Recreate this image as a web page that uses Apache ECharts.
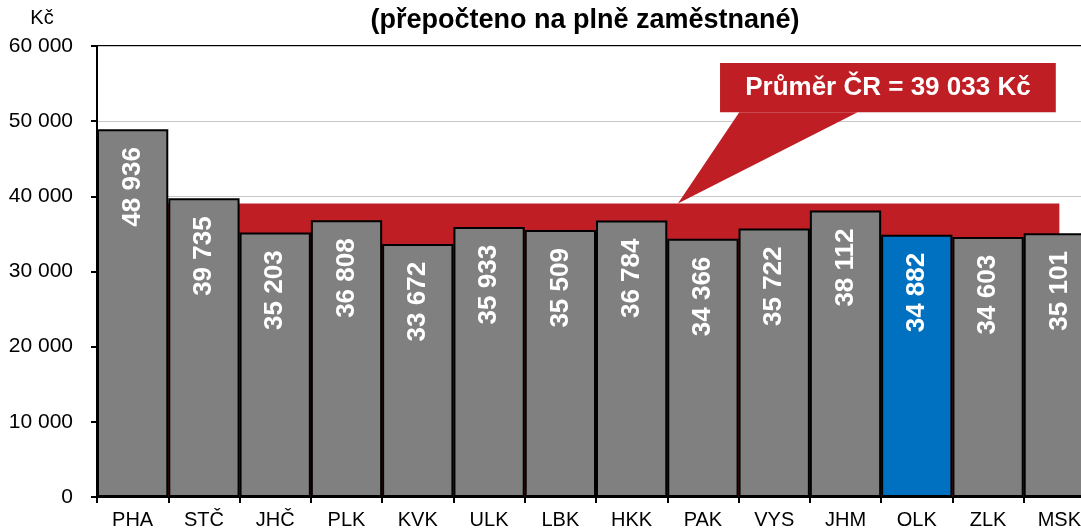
<!DOCTYPE html>
<html><head><meta charset="utf-8">
<script src="https://cdn.jsdelivr.net/npm/echarts@6/dist/echarts.min.js"></script>
<style>html,body{margin:0;padding:0;background:#fff;overflow:hidden;width:1081px;height:530px}#c{width:1095px;height:530px}</style>
</head><body><div id="c"></div>
<script>
const categories = ["PHA","STČ","JHČ","PLK","KVK","ULK","LBK","HKK","PAK","VYS","JHM","OLK","ZLK","MSK"];
const wages = [48936,39735,35203,36808,33672,35933,35509,36784,34366,35722,38112,34882,34603,35101];
const highlight = "OLK";
const average = 39033;
const yTicks = [0,10000,20000,30000,40000,50000,60000];
const titleText = "(přepočteno na plně zaměstnané)";
const unitText = "Kč";
const calloutText = "Průměr ČR = 39 033 Kč";

const FONT = "Liberation Sans, Arial, sans-serif";
const RED = "#BE1E24";
const fmt = v => String(v).replace(/\B(?=(\d{3})+(?!\d))/g, " ");

const chart = echarts.init(document.getElementById('c'), null, {renderer:'canvas'});
const option = {
  animation:false,
  backgroundColor:'#fff',
  title:{text:titleText,left:580,top:2,textAlign:'center',
    textStyle:{fontFamily:FONT,fontWeight:'bold',fontSize:27,color:'#000'}},
  grid:{left:97,top:46,bottom:33,right:0,show:true,borderColor:'#000',borderWidth:2,backgroundColor:'transparent'},
  xAxis:{type:'category',data:categories,boundaryGap:true,
    axisLine:{lineStyle:{color:'#000',width:2}},
    axisTick:{show:true,alignWithLabel:false,length:6,lineStyle:{color:'#000',width:2}},
    axisLabel:{fontFamily:FONT,fontSize:20,color:'#000',margin:13}},
  yAxis:{type:'value',min:yTicks[0],max:yTicks[yTicks.length-1],interval:10000,
    axisLine:{show:true,lineStyle:{color:'#000',width:2}},
    axisTick:{show:true,length:6,lineStyle:{color:'#000',width:2}},
    splitLine:{show:true,lineStyle:{color:'#c8c8c8',width:1}},
    axisLabel:{fontFamily:FONT,fontSize:21,color:'#000',margin:24,formatter:v=>fmt(v)}},
  series:[
    {type:'line',data:categories.map(()=>average),symbol:'none',z:1,
      lineStyle:{width:0,color:RED},areaStyle:{color:RED,opacity:1},silent:true},
    {type:'bar',z:2,barCategoryGap:'0%',
      data:wages.map((v,i)=>({value:v,itemStyle:{color:categories[i]===highlight?'#0070C0':'#808080'}})),
      itemStyle:{borderColor:'#000',borderWidth:2},
      label:{show:true,position:'insideTop',rotate:90,align:'right',verticalAlign:'middle',distance:18,
        fontFamily:FONT,fontWeight:'bold',fontSize:26,color:'#fff',formatter:p=>fmt(p.value)}}
  ]
};
chart.setOption(option);

// Annotations positioned from the axes
const yTip = chart.convertToPixel({yAxisIndex:0}, average);
const x7 = chart.convertToPixel({xAxisIndex:0}, 7);
const x8 = chart.convertToPixel({xAxisIndex:0}, 8);
const step = x8 - x7;
const at = k => x7 + k*step;
const y60 = chart.convertToPixel({yAxisIndex:0}, 60000);
const y50 = chart.convertToPixel({yAxisIndex:0}, 50000);
const boxTop = y60 + 17, boxBot = y50 - 9;
const boxL = at(1.24), boxR = at(5.95);
chart.setOption({graphic:[
  {type:'text',z:101,x:42,y:y60-28,
    style:{text:unitText,fill:'#000',font:'20px '+FONT,align:'center',verticalAlign:'middle'}},
  {type:'polygon',z:100,shape:{points:[[at(1.51),boxBot],[at(0.649),yTip],[at(3.17),boxBot]]},style:{fill:RED}},
  {type:'rect',z:100,shape:{x:boxL,y:boxTop,width:boxR-boxL,height:boxBot-boxTop},style:{fill:RED}},
  {type:'text',z:101,x:(boxL+boxR)/2,y:(boxTop+boxBot)/2,
    style:{text:calloutText,fill:'#fff',font:'bold 26px '+FONT,align:'center',verticalAlign:'middle'}}
]});
</script></body></html>
